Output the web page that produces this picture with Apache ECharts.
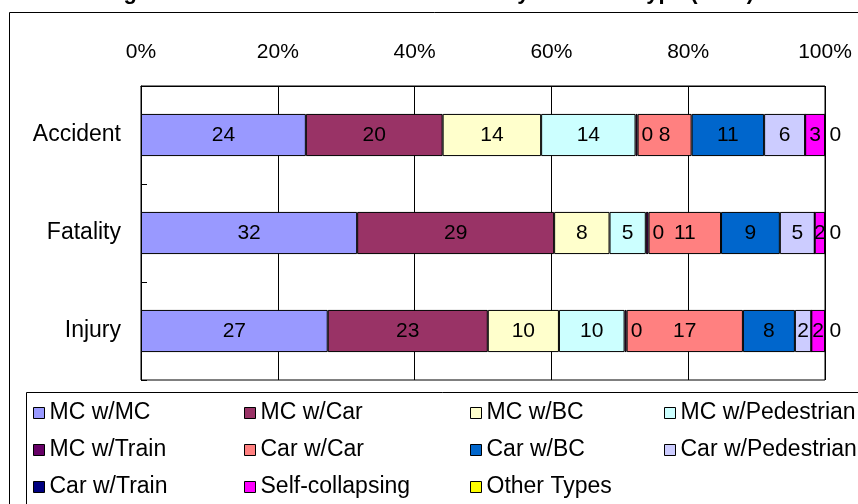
<!DOCTYPE html>
<html>
<head>
<meta charset="utf-8">
<script src="https://cdn.jsdelivr.net/npm/echarts@6/dist/echarts.min.js"></script>
<style>
  html, body { margin: 0; padding: 0; background: #fff; }
  #chart { width: 858px; height: 504px; }
</style>
</head>
<body>
<div id="chart"></div>
<script>
// Share of each collision type per outcome (percent of the row total)
const categories = ['Accident', 'Fatality', 'Injury'];
const seriesNames = [
  'MC w/MC', 'MC w/Car', 'MC w/BC', 'MC w/Pedestrian',
  'MC w/Train', 'Car w/Car', 'Car w/BC', 'Car w/Pedestrian',
  'Car w/Train', 'Self-collapsing', 'Other Types'
];
const mcWithMc         = [24.1, 31.6, 27.3];
const mcWithCar        = [20.0, 28.8, 23.4];
const mcWithBc         = [14.4, 8.1, 10.4];
const mcWithPedestrian = [13.8, 5.3, 9.6];
const mcWithTrain      = [0.3, 0.4, 0.3];
const carWithCar       = [7.9, 10.6, 17.0];
const carWithBc        = [10.6, 8.6, 7.6];
const carWithPed       = [6.0, 5.1, 2.4];
const carWithTrain     = [0, 0, 0];
const selfCollapsing   = [2.9, 1.5, 2.0];
const otherTypes       = [0, 0, 0];
const tickLabels = ['0%', '20%', '40%', '60%', '80%', '100%'];

const seriesValues = [
  mcWithMc, mcWithCar, mcWithBc, mcWithPedestrian, mcWithTrain,
  carWithCar, carWithBc, carWithPed, carWithTrain, selfCollapsing, otherTypes
];
const colors = [
  '#9999FF', '#993366', '#FFFFCC', '#CCFFFF', '#660066',
  '#FF8080', '#0066CC', '#CCCCFF', '#000080', '#FF00FF', '#FFFF00'
];

const FONT = '"Liberation Sans", Arial, sans-serif';

// label placement: slivers get their label just to the right of the segment
function labelFor(name) {
  const base = {
    show: true,
    color: '#000',
    fontFamily: FONT,
    fontSize: 21,
    formatter: p => String(Math.round(p.value))
  };
  if (name === 'Car w/Train') return { show: false };
  if (name === 'MC w/Train' || name === 'Other Types') {
    return Object.assign(base, { position: 'right', distance: 4 });
  }
  return Object.assign(base, { position: 'inside' });
}

const series = seriesNames.map((name, i) => ({
  name: name,
  type: 'bar',
  stack: 'total',
  barWidth: '43%',
  data: seriesValues[i],
  itemStyle: { color: colors[i], borderColor: '#000', borderWidth: 1 },
  label: labelFor(name),
  emphasis: { disabled: true },
  animation: false
}));

// legend columns, read down each column
const legendColumns = [
  { left: 33,  names: ['MC w/MC', 'MC w/Train', 'Car w/Train'] },
  { left: 244, names: ['MC w/Car', 'Car w/Car', 'Self-collapsing'] },
  { left: 470, names: ['MC w/BC', 'Car w/BC', 'Other Types'] },
  { left: 664, names: ['MC w/Pedestrian', 'Car w/Pedestrian'] }
];

const legends = legendColumns.map(col => ({
  orient: 'vertical',
  left: col.left,
  top: 401,
  padding: 0,
  itemGap: 13,
  itemWidth: 11,
  itemHeight: 11,
  icon: 'rect',
  itemStyle: { borderColor: '#000', borderWidth: 1 },
  selectedMode: false,
  data: col.names,
  textStyle: { color: '#000', fontFamily: FONT, fontSize: 23, lineHeight: 24 }
}));

const chart = echarts.init(document.getElementById('chart'), null, { renderer: 'canvas' });
chart.setOption({
  backgroundColor: '#fff',
  animation: false,
  color: colors,
  grid: {
    left: 141, top: 86, right: 33, height: 294,
    show: true, borderColor: '#000', borderWidth: 1, backgroundColor: '#fff'
  },
  xAxis: {
    type: 'value',
    position: 'top',
    min: 0, max: 100, interval: 20,
    axisLine: { show: true, lineStyle: { color: '#000' } },
    axisTick: { show: false },
    splitLine: { show: true, lineStyle: { color: '#000', width: 1 } },
    axisLabel: {
      color: '#000', fontFamily: FONT, fontSize: 21, margin: 23,
      formatter: v => tickLabels[Math.round(v / 20)]
    }
  },
  yAxis: {
    type: 'category',
    inverse: true,
    data: categories,
    axisLine: { show: true, lineStyle: { color: '#000' } },
    axisTick: { show: true, inside: true, length: 6, lineStyle: { color: '#000' } },
    axisLabel: { color: '#000', fontFamily: FONT, fontSize: 23, margin: 20 }
  },
  legend: legends,
  graphic: [
    {
      type: 'text', left: 'center', top: -18, z: 10,
      style: {
        text: 'Fig. 3: Distribution of Road Accidents by Accident Type (2005)',
        font: 'bold 22px "Liberation Sans", Arial, sans-serif',
        fill: '#000'
      }
    },
    {
      type: 'rect', z: -1, silent: true,
      shape: { x: 9.5, y: 12.5, width: 1000, height: 1000 },
      style: { fill: 'none', stroke: '#000', lineWidth: 1 }
    },
    {
      type: 'rect', z: -1, silent: true,
      shape: { x: 26.5, y: 392.5, width: 1000, height: 1000 },
      style: { fill: 'none', stroke: '#000', lineWidth: 1 }
    }
  ],
  series: series
});
</script>
</body>
</html>
